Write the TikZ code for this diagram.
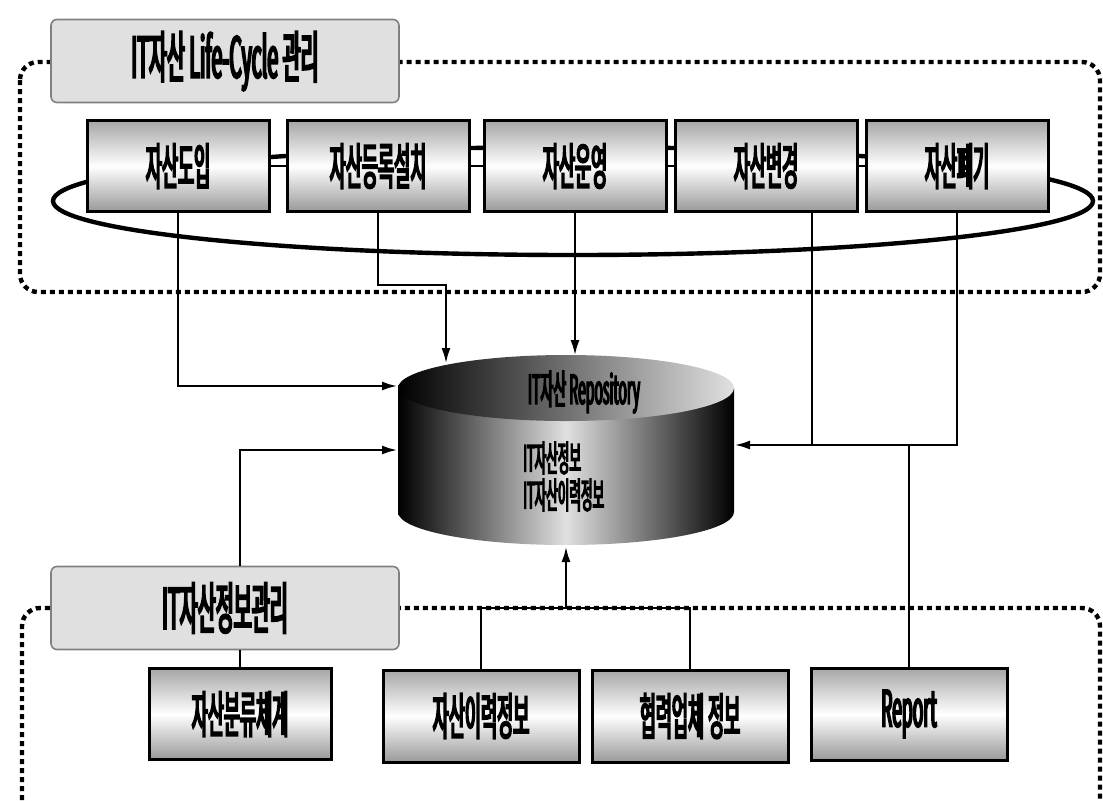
\documentclass[tikz,border=0pt]{standalone}
\usepackage{fontspec}
\setmainfont{Noto Sans CJK KR}[FakeStretch=0.35,FakeBold=3.5]
\usepackage{tikz}
\usetikzlibrary{arrows.meta,calc}
\tikzset{
  stagebox/.style={
    draw=black,
    line width=1.5pt,
    top color=black!35,
    bottom color=black!40,
    middle color=white,
    minimum width=91pt,
    minimum height=45.5pt,
    inner sep=0pt,
    font=\fontsize{25}{27}\selectfont
  },
  itembox/.style={stagebox, minimum width=98pt, minimum height=46pt},
  headbox/.style={
    draw=black!50,
    line width=0.8pt,
    fill=black!12,
    rounded corners=3pt,
    minimum width=174pt,
    minimum height=41.5pt,
    inner sep=0pt,
    font=\fontsize{28}{30}\selectfont
  },
  regionline/.style={line width=2.2pt, dash pattern=on 2.5pt off 2pt, rounded corners=9pt},
  ringline/.style={line width=2.2pt},
  linkline/.style={line width=1.4pt},
  flowarrow/.style={-{Latex[length=8pt,width=4.5pt]}, line width=1.4pt},
  repotext/.style={font=\fontsize{18}{20}\selectfont, inner sep=0pt}
}
\begin{document}
\begin{tikzpicture}[x=0.5pt,y=-0.5pt]
  \useasboundingbox (0,0) rectangle (1103,800);
  % dashed areas and the life-cycle ring
  \draw[regionline] (20,62) rectangle (1100,292);
  \draw[regionline] (22,800) -- (22,608) -- (1100,608) -- (1100,800);
  \draw[ringline] (573,201) ellipse [x radius=520, y radius=54];

  \node[headbox] (lchead) at (225,61) {IT자산 Life-Cycle 관리};
  \node[stagebox] (intro) at (178,166) {자산도입};
  \node[stagebox] (install) at (378,166) {자산등록설치};
  \node[stagebox] (operate) at (575,166) {자산운영};
  \node[stagebox] (change) at (766,166) {자산변경};
  \node[stagebox] (dispose) at (957,166) {자산폐기};

  \node[headbox] (infohead) at (225,608) {IT자산정보관리};
  \node[stagebox] (category) at (240,714) {자산분류체계};
  \node[itembox] (history) at (481,716) {자산이력정보};
  \node[itembox] (partner) at (690,716) {협력업체 정보};
  \node[itembox] (report) at (909,714) {Report};

  % repository drum
  \shade[left color=black, right color=black, middle color=black!12]
    (398,388) -- (398,512) arc[start angle=180, end angle=0, x radius=168, y radius=33]
    -- (734,388) -- cycle;
  \shade[left color=black, middle color=black!75, right color=black!12]
    (566,388) ellipse [x radius=168, y radius=33];
  \node[repotext, font=\fontsize{20}{22}\selectfont] (repotitle) at (584,392) {IT자산 Repository};
  \node[repotext, anchor=west] (repoinfo) at (523,458) {IT자산정보};
  \node[repotext, anchor=west] (repohist) at (523,495) {IT자산이력정보};

  \coordinate (repoW1) at (398,386);
  \coordinate (repoW2) at (398,450);
  \coordinate (repoN1) at (446,364);
  \coordinate (repoN2) at (575,356);
  \coordinate (repoE) at (734,445);
  \coordinate (repoS) at (566,546);
  \coordinate (changeTap) at (812,445);
  \coordinate (infobus) at (566,608);

  \draw[linkline] (intro) -- (install);
  \draw[linkline] (install) -- (operate);
  \draw[linkline] (operate) -- (change);
  \draw[linkline] (change) -- (dispose);

  \draw[flowarrow] (intro.south) |- (repoW1);
  \draw[flowarrow] (install.south) -- ++(0,72) -| (repoN1);
  \draw[flowarrow] (operate.south) -- (repoN2);
  \draw[linkline] (changeTap |- change.south) -- (changeTap);
  \draw[flowarrow] (dispose.south) |- (repoE);
  \draw[linkline] (report.north) -- (report.north |- repoE);

  \draw[flowarrow] (category.north |- infohead.north) |- (repoW2);
  \draw[linkline] (infohead.south -| category.north) -- (category.north);
  \draw[linkline] (history.north) |- (infobus) -| (partner.north);
  \draw[flowarrow] (infobus) -- (repoS);
\end{tikzpicture}
\end{document}
